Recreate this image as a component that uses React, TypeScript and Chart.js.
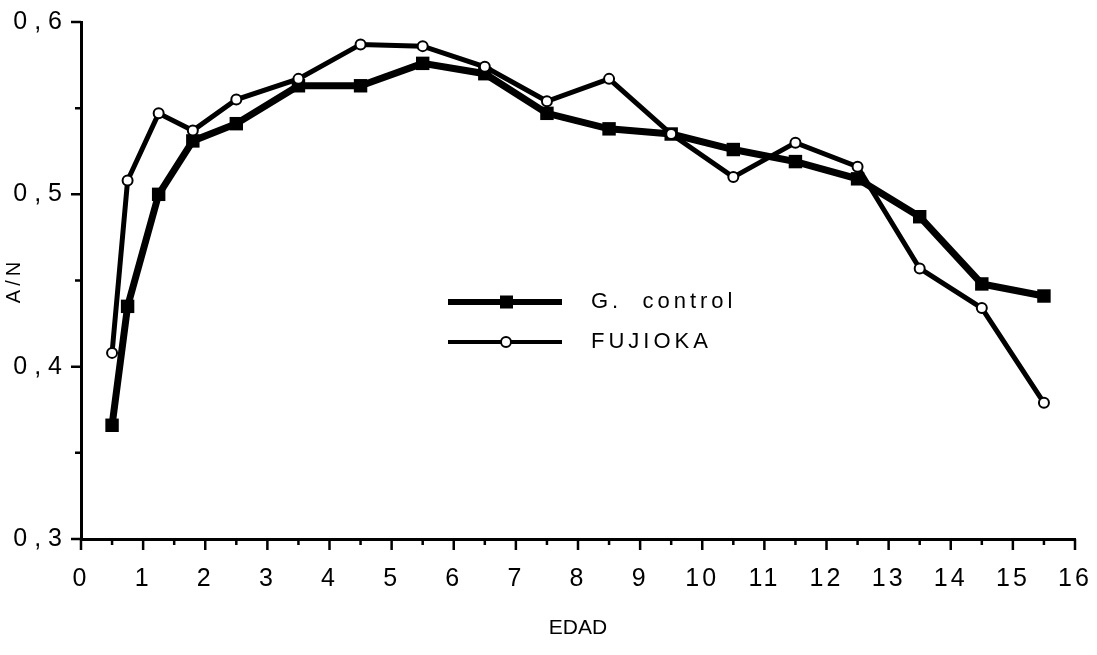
import React, { useEffect, useRef } from 'react';
import { Chart, registerables } from 'chart.js';

Chart.register(...registerables);

// ---- Data ----
const EDAD = [0.5, 0.75, 1.25, 1.8, 2.5, 3.5, 4.5, 5.5, 6.5, 7.5, 8.5, 9.5, 10.5, 11.5, 12.5, 13.5, 14.5, 15.5];
const CONTROL = [0.366, 0.435, 0.5, 0.531, 0.541, 0.563, 0.563, 0.576, 0.57, 0.547, 0.538, 0.535, 0.526, 0.519, 0.509, 0.487, 0.448, 0.441];
const FUJIOKA = [0.408, 0.508, 0.547, 0.537, 0.555, 0.567, 0.587, 0.586, 0.574, 0.554, 0.567, 0.535, 0.51, 0.53, 0.516, 0.457, 0.434, 0.379];
const SERIES_LABELS = ['G.  control', 'FUJIOKA'];
const X_TITLE = 'EDAD';
const Y_TITLE = 'A/N';
const X_MIN = 0;
const X_MAX = 16;
const Y_MIN = 0.3;
const Y_MAX = 0.6;

const FONT = '"Liberation Sans", Arial, sans-serif';

// wrap a scale draw method so it renders with a given canvas letter spacing
function spaced(s: any, key: string, sp: string) {
  const flag = '__spaced_' + key;
  if (s[flag]) return;
  s[flag] = true;
  const orig = Object.getPrototypeOf(s)[key];
  s[key] = function (...args: any[]) {
    const c = this.ctx;
    const prev = c.letterSpacing;
    c.letterSpacing = sp;
    const r = orig.apply(this, args);
    c.letterSpacing = prev || '0px';
    return r;
  };
}

const tickMarks = {
  id: 'tickMarks',
  afterDraw(chart: any) {
    const ctx = chart.ctx;
    const xs = chart.scales.x;
    const ys = chart.scales.y;
    ctx.save();
    ctx.letterSpacing = '0px';
    ctx.strokeStyle = '#000';
    ctx.lineWidth = 2.5;
    ctx.beginPath();
    xs.ticks.forEach((t: any) => {
      const px = xs.getPixelForValue(t.value);
      const major = Math.abs(t.value - Math.round(t.value)) < 1e-6;
      ctx.moveTo(px, ys.bottom);
      ctx.lineTo(px, ys.bottom + (major ? 11 : 6));
    });
    ys.ticks.forEach((t: any) => {
      const py = ys.getPixelForValue(t.value);
      const major = Math.abs(t.value * 10 - Math.round(t.value * 10)) < 1e-6;
      ctx.moveTo(xs.left, py);
      ctx.lineTo(xs.left - (major ? 10 : 6), py);
    });
    ctx.stroke();

    // inline legend
    const rows = [302, 342];
    const order = [1, 0];
    order.forEach((di, row) => {
      const ds = chart.data.datasets[di];
      const y = rows[row];
      ctx.beginPath();
      ctx.lineWidth = row === 0 ? 6 : 4;
      ctx.moveTo(448, y);
      ctx.lineTo(562, y);
      ctx.stroke();
      if (ds.pointStyle === 'rect') {
        ctx.fillStyle = '#000';
        ctx.fillRect(500, y - 6.5, 13, 13);
      } else {
        ctx.beginPath();
        ctx.arc(506, y, 5, 0, Math.PI * 2);
        ctx.fillStyle = '#fff';
        ctx.fill();
        ctx.lineWidth = 2;
        ctx.stroke();
      }
      ctx.fillStyle = '#000';
      ctx.font = `22px ${FONT}`;
      ctx.letterSpacing = '4px';
      ctx.textBaseline = 'middle';
      ctx.textAlign = 'left';
      ctx.fillText(ds.label, 591, y);
      ctx.letterSpacing = '0px';
    });
    ctx.restore();
  },
};

export default function App() {
  const ref = useRef<HTMLCanvasElement | null>(null);

  useEffect(() => {
    document.body.style.margin = '0';
    const canvas = ref.current;
    if (!canvas) return;
    const chart = new Chart(canvas, {
      type: 'line',
      data: {
        datasets: [
          {
            label: SERIES_LABELS[1],
            data: EDAD.map((x, i) => ({ x, y: FUJIOKA[i] })),
            borderColor: '#000',
            borderWidth: 5,
            pointStyle: 'circle',
            pointRadius: 5,
            pointBorderWidth: 2,
            pointBackgroundColor: '#fff',
            pointBorderColor: '#000',
            tension: 0,
            order: 0,
          },
          {
            label: SERIES_LABELS[0],
            data: EDAD.map((x, i) => ({ x, y: CONTROL[i] })),
            borderColor: '#000',
            borderWidth: 7,
            pointStyle: 'rect',
            pointRadius: 9.5,
            pointBorderWidth: 0,
            pointBackgroundColor: '#000',
            pointBorderColor: '#000',
            tension: 0,
            order: 1,
          },
        ],
      },
      options: {
        animation: false,
        responsive: false,
        maintainAspectRatio: false,
        layout: { padding: { top: 22, right: 22, left: 0, bottom: 0 } },
        plugins: {
          legend: { display: false },
          tooltip: { enabled: false },
        },
        scales: {
          x: {
            type: 'linear',
            min: X_MIN,
            max: X_MAX,
            grid: { display: false, drawTicks: false },
            border: { display: true, color: '#000', width: 3 },
            afterFit: (s: any) => {
              s.height = 116;
              s.paddingLeft = 0;
              s.paddingRight = 0;
              spaced(s, 'drawLabels', '3px');
            },
            ticks: {
              stepSize: 0.5,
              autoSkip: false,
              maxRotation: 0,
              padding: 25,
              color: '#000',
              font: { family: FONT, size: 25 },
              callback: (v: any) => (Number.isInteger(v) ? String(v) : ''),
            },
            title: {
              display: true,
              text: X_TITLE,
              color: '#000',
              font: { family: FONT, size: 21 },
              padding: { top: 14, bottom: 14 },
            },
          },
          y: {
            type: 'linear',
            min: Y_MIN,
            max: Y_MAX,
            grid: { display: false, drawTicks: false },
            border: { display: true, color: '#000', width: 3 },
            afterFit: (s: any) => {
              s.width = 81;
              s.paddingTop = 0;
              s.paddingBottom = 0;
              spaced(s, 'drawLabels', '7px');
              spaced(s, 'drawTitle', '4px');
            },
            ticks: {
              stepSize: 0.05,
              autoSkip: false,
              padding: 12,
              color: '#000',
              font: { family: FONT, size: 25 },
              callback: (v: any) => {
                const r = Math.round(v * 100);
                return r % 10 === 0 ? (r / 100).toFixed(1).replace('.', ',') : '';
              },
            },
            title: {
              display: true,
              text: Y_TITLE,
              color: '#000',
              font: { family: FONT, size: 20 },
              padding: { top: 2, bottom: 2 },
            },
          },
        },
      },
      plugins: [tickMarks],
    } as any);
    return () => chart.destroy();
  }, []);

  return (
    <div style={{ width: 1097, height: 655, background: '#fff' }}>
      <canvas ref={ref} width={1097} height={655} style={{ display: 'block' }} />
    </div>
  );
}
